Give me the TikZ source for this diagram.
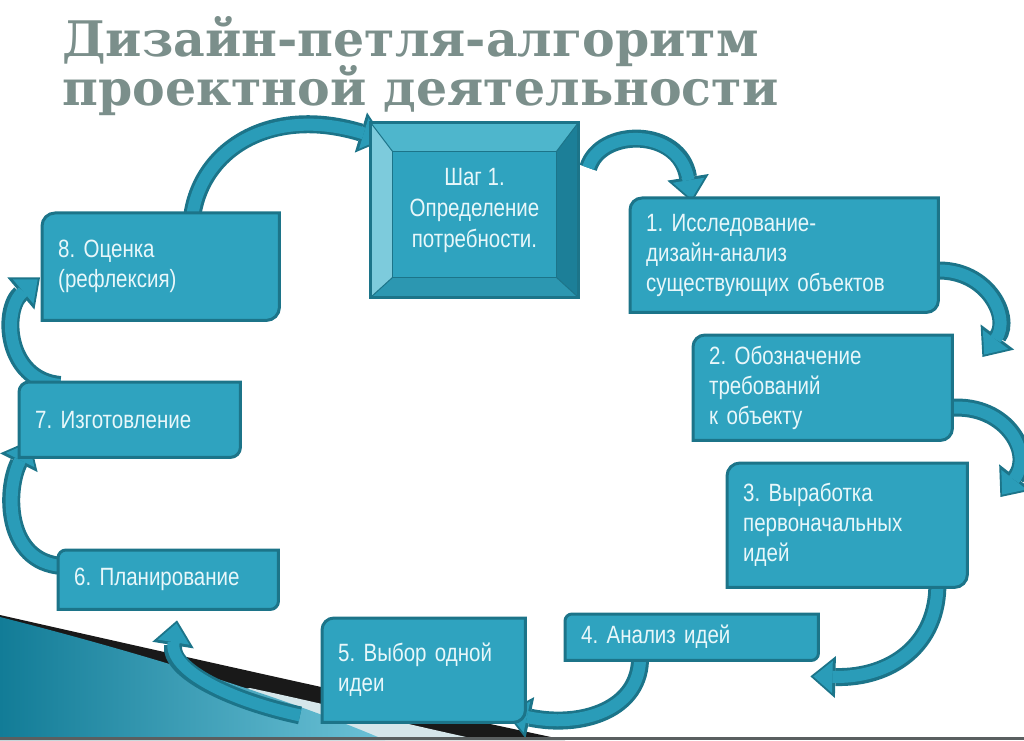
\documentclass[tikz,border=0pt]{standalone}
\usepackage{fontspec}
\usetikzlibrary{arrows.meta, calc}
\newfontfamily\cardfont{Liberation Sans}[FakeStretch=0.82]
\newfontfamily\titlefont{DejaVu Serif}
\definecolor{cardfill}{HTML}{2FA3BF}
\definecolor{cardrim}{HTML}{1C7489}
\definecolor{cardtext}{HTML}{E8F7FA}
\definecolor{arrowfill}{HTML}{2A9CB8}
\definecolor{titlegray}{HTML}{7B8F8B}
\definecolor{beveltop}{HTML}{4EB6CC}
\definecolor{bevelleft}{HTML}{7DCBDC}
\definecolor{bevelright}{HTML}{1C7F98}
\definecolor{bevelbottom}{HTML}{2C97B1}
\definecolor{swooshdeep}{HTML}{127C97}
\definecolor{swooshlight}{HTML}{6CC2D7}
\definecolor{swooshpale}{HTML}{D5E6EA}
\definecolor{framegray}{HTML}{5A5F60}

\pgfdeclarelayer{swoosh}
\pgfdeclarelayer{links}
\pgfdeclarelayer{cards}
\pgfsetlayers{swoosh,links,cards,main}

% card outline: rounded top-left and bottom-right corners
\newcommand\cardshape[2]{%
  \draw[cardedge] ([yshift=-#2]#1.north west) arc[start angle=180, end angle=90, radius=#2]
    -- (#1.north east) -- ([yshift=#2]#1.south east) arc[start angle=0, end angle=-90, radius=#2]
    -- (#1.south west) -- cycle;}

\frenchspacing
\begin{document}
\begin{tikzpicture}[
    x=1pt, y=1pt,
    card/.style={anchor=north west, inner xsep=16pt, inner ysep=0pt, align=left, text=cardtext,
      font=\cardfont\fontsize{25}{30}\selectfont},
    needbox/.style={minimum width=207pt, minimum height=174pt, inner sep=0pt, align=center, text=cardtext,
      font=\cardfont\fontsize{25}{31}\selectfont},
    cardedge/.style={draw=cardrim, fill=cardfill, line width=3pt},
    heading/.style={anchor=base west, inner sep=0pt, text=titlegray,
      font=\titlefont\bfseries\fontsize{49}{49}\selectfont},
    loop arrow/.style={draw=arrowfill, line width=12pt, shorten >=3pt,
      -{Triangle[length=19pt, width=32pt, line width=0pt]},
      preaction={draw=cardrim, line width=18pt, shorten >=0pt,
        -{Triangle[length=25pt, width=42pt, line width=0pt]}}}
]
\useasboundingbox (0,0) rectangle (1024,740);

% title
\node[heading] (head1) at (62,683) {Дизайн-петля-алгоритм};
\node[heading] (head2) at (62,634) {проектной деятельности};

% steps
\node[needbox] (need) at (474.5,530) {Шаг 1.\\Определение\\потребности.};
\node[card, text width=276pt, minimum height=114pt] (card1) at (630,542) {1. Исследование-\\дизайн-анализ\\существующих объектов};
\node[card, text width=227pt, minimum height=105pt] (card2) at (693,405) {2. Обозначение\\требований\\к объекту};
\node[card, text width=208pt, minimum height=124pt] (card3) at (727,277) {3. Выработка\\первоначальных\\идей};
\node[card, text width=221pt, minimum height=46pt] (card4) at (565,126) {4. Анализ идей};
\node[card, text width=171pt, minimum height=104pt] (card5) at (322,122) {5. Выбор одной\\идеи};
\node[card, text width=188pt, minimum height=59pt] (card6) at (58,190) {6. Планирование};
\node[card, text width=189pt, minimum height=75pt] (card7) at (19,358) {7. Изготовление};
\node[card, text width=205pt, minimum height=107pt] (card8) at (42,527) {8. Оценка\\(рефлексия)};

\begin{pgfonlayer}{cards}
  \foreach \c/\r in {card1/12pt, card2/12pt, card3/13pt, card4/7pt, card5/12pt, card6/8pt, card7/10pt, card8/13pt}
    {\cardshape{\c}{\r}}
  % bevelled first step
  \coordinate (fa) at ($(need.north west)+(22,-29)$);
  \coordinate (fb) at ($(need.south east)+(-22,20)$);
  \fill[beveltop] (need.north west) -- (need.north east) -- (fb |- fa) -- (fa) -- cycle;
  \fill[bevelleft] (need.north west) -- (fa) -- (fa |- fb) -- (need.south west) -- cycle;
  \fill[bevelright] (need.north east) -- (need.south east) -- (fb) -- (fb |- fa) -- cycle;
  \fill[bevelbottom] (need.south west) -- (need.south east) -- (fb) -- (fa |- fb) -- cycle;
  \draw[cardrim, fill=cardfill, line width=1pt] (fa) rectangle (fb);
  \draw[cardrim, line width=1pt] (need.north west) -- (fa) (need.north east) -- (fb |- fa)
    (need.south west) -- (fa |- fb) (need.south east) -- (fb);
  \draw[cardrim, line width=3pt] (need.north west) rectangle (need.south east);
\end{pgfonlayer}

% loop of arrows
\begin{pgfonlayer}{links}
  \draw[loop arrow] ($(need.north east)+(10,-45)$) .. controls +(12,40) and +(-12,75) .. ($(card1.north west)+(62,-4)$);
  \draw[loop arrow] ($(card1.north east)+(-8,-73)$) .. controls +(55,6) and +(30,40) .. ($(card2.north east)+(30,-22)$);
  \draw[loop arrow] ($(card2.south east)+(-7,32)$) .. controls +(58,8) and +(35,45) .. ($(card3.north east)+(33,-34)$);
  \draw[loop arrow] ($(card3.south east)+(-30,5)$) .. controls +(1,-63) and +(80,-2) .. ($(card4.south east)+(-8,-16)$);
  \draw[loop arrow] ($(card4.south west)+(75,5)$) .. controls +(2,-55) and +(75,-16) .. ($(card5.south east)+(-20,10)$);
  \draw[loop arrow] ($(card5.south west)+(-22,7)$) .. controls +(-70,15) and +(-8,-50) .. ($(card6.south west)+(119,-11)$);
  \draw[loop arrow] ($(card6.north west)+(4,-16)$) .. controls +(-57,4) and +(-25,-50) .. ($(card7.south west)+(11,17)$);
  \draw[loop arrow] ($(card7.north west)+(41,-3)$) .. controls +(-55,5) and +(-38,-32) .. ($(card8.south west)+(-2,43)$);
  \draw[loop arrow] ($(card8.north west)+(150,-5)$) .. controls +(8,68) and +(-115,35) .. ($(need.north west)+(14,-17)$);
\end{pgfonlayer}

% slide background swoosh
\begin{pgfonlayer}{swoosh}
  \fill[black!90] (0,125) .. controls (190,82) and (400,35) .. (565,0) -- (0,0) -- cycle;
  \fill[swooshpale] (250,52) .. controls (330,35) and (410,15) .. (480,0) -- (0,0) -- cycle;
  \shade[left color=swooshdeep, right color=swooshlight] (0,123) .. controls (130,90) and (280,45) .. (385,0) -- (0,0) -- cycle;
\end{pgfonlayer}
\fill[framegray] (0,0) rectangle (1024,3);

\end{tikzpicture}
\end{document}
